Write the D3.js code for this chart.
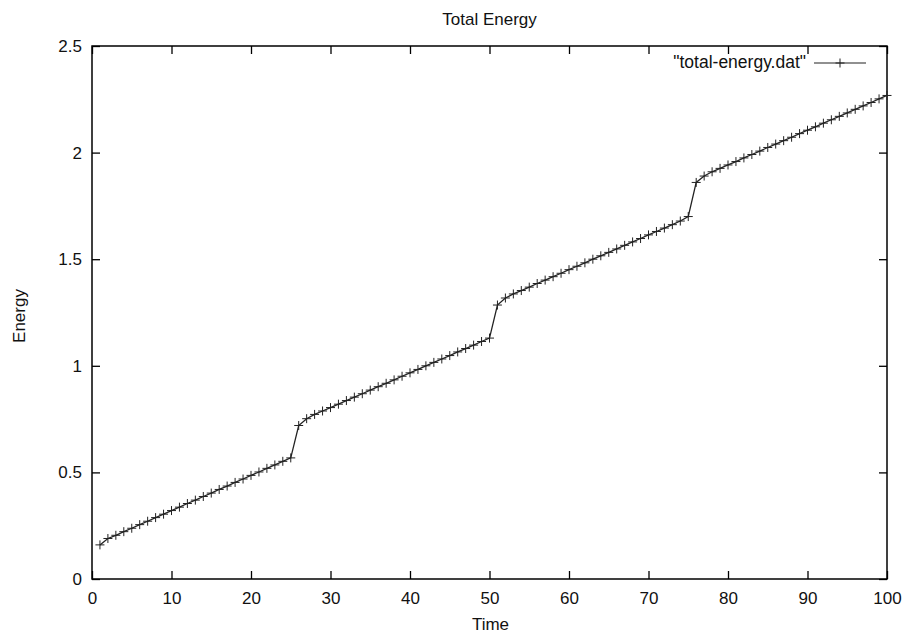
<!DOCTYPE html>
<html>
<head>
<meta charset="utf-8">
<script src="https://cdn.jsdelivr.net/npm/d3@7"></script>
<style>
  body { margin: 0; background: #fff; }
  svg { display: block; font-family: "Liberation Sans", Arial, sans-serif; }
</style>
</head>
<body>
<svg id="chart" width="908" height="636"></svg>
<script>
// values
const times = d3.range(1, 101)
const energy = [
  0.160, 0.190, 0.205, 0.222, 0.238, 0.255, 0.271, 0.288, 0.304, 0.321,
  0.337, 0.354, 0.370, 0.387, 0.403, 0.420, 0.436, 0.453, 0.469, 0.486,
  0.502, 0.519, 0.535, 0.552, 0.568, 0.720, 0.752, 0.772, 0.788, 0.804,
  0.820, 0.837, 0.853, 0.869, 0.886, 0.902, 0.918, 0.934, 0.951, 0.967,
  0.983, 1.000, 1.016, 1.032, 1.048, 1.065, 1.081, 1.097, 1.114, 1.130,
  1.285, 1.318, 1.337, 1.353, 1.369, 1.386, 1.402, 1.418, 1.434, 1.451,
  1.467, 1.483, 1.500, 1.516, 1.532, 1.548, 1.565, 1.581, 1.597, 1.614,
  1.630, 1.646, 1.662, 1.679, 1.700, 1.860, 1.890, 1.910, 1.926, 1.942,
  1.958, 1.975, 1.991, 2.007, 2.024, 2.040, 2.056, 2.072, 2.089, 2.105,
  2.121, 2.138, 2.154, 2.170, 2.186, 2.203, 2.219, 2.235, 2.252, 2.268
]
const xTicks = [0, 10, 20, 30, 40, 50, 60, 70, 80, 90, 100]
const yTicks = [0, 0.5, 1, 1.5, 2, 2.5]
const seriesName = '"total-energy.dat"'

const svg = d3.select('#chart')
const plotLeft = 92, plotRight = 887, plotTop = 46, plotBottom = 579
const tickLen = 8
const fontSize = '17px'

const x = d3.scaleLinear().domain([0, 100]).range([plotLeft, plotRight])
const y = d3.scaleLinear().domain([0, 2.5]).range([plotBottom, plotTop])

// frame
svg.append('rect')
  .attr('x', plotLeft).attr('y', plotTop)
  .attr('width', plotRight - plotLeft).attr('height', plotBottom - plotTop)
  .attr('fill', 'none').attr('stroke', '#000').attr('stroke-width', 1.5)

// axes: gnuplot style inward ticks, mirrored
const axisStyle = g => {
  g.select('.domain').remove()
  g.selectAll('.tick line').attr('stroke', '#000').attr('stroke-width', 1.3)
  g.selectAll('.tick text').attr('fill', '#111').style('font-size', fontSize)
}

svg.append('g')
  .attr('transform', `translate(0,${plotBottom})`)
  .call(d3.axisBottom(x).tickValues(xTicks).tickSizeInner(-tickLen).tickSizeOuter(0).tickPadding(13).tickFormat(String))
  .call(axisStyle)

svg.append('g')
  .attr('transform', `translate(0,${plotTop})`)
  .call(d3.axisTop(x).tickValues(xTicks).tickSizeInner(-tickLen).tickSizeOuter(0).tickFormat(''))
  .call(axisStyle)

svg.append('g')
  .attr('transform', `translate(${plotLeft},0)`)
  .call(d3.axisLeft(y).tickValues(yTicks).tickSizeInner(-tickLen).tickSizeOuter(0).tickPadding(10).tickFormat(String))
  .call(axisStyle)

svg.append('g')
  .attr('transform', `translate(${plotRight},0)`)
  .call(d3.axisRight(y).tickValues(yTicks).tickSizeInner(-tickLen).tickSizeOuter(0).tickFormat(''))
  .call(axisStyle)

// titles
const mid = (plotLeft + plotRight) / 2
svg.append('text').attr('x', mid).attr('y', 25).attr('text-anchor', 'middle')
  .style('font-size', fontSize).attr('fill', '#111').text('Total Energy')
svg.append('text').attr('x', mid + 1).attr('y', 630).attr('text-anchor', 'middle')
  .style('font-size', fontSize).attr('fill', '#111').text('Time')
svg.append('text').attr('transform', 'translate(25,316) rotate(-90)').attr('text-anchor', 'middle')
  .style('font-size', fontSize).attr('fill', '#111').text('Energy')

// series
const data = times.map((t, i) => [t, energy[i]])
const line = d3.line().x(d => x(d[0])).y(d => y(d[1]))

svg.append('path').datum(data)
  .attr('d', line)
  .attr('fill', 'none').attr('stroke', '#222').attr('stroke-width', 1.3)

const s = 4.5
const plusPath = `M${-s},0H${s}M0,${-s}V${s}`

svg.append('g').selectAll('path').data(data).join('path')
  .attr('transform', d => `translate(${x(d[0])},${y(d[1])})`)
  .attr('d', plusPath)
  .attr('stroke', '#222').attr('stroke-width', 1)

// legend
svg.append('text').attr('x', 806).attr('y', 68).attr('text-anchor', 'end')
  .style('font-size', '17.5px').attr('fill', '#111').text(seriesName)
svg.append('line').attr('x1', 814).attr('x2', 866).attr('y1', 63).attr('y2', 63)
  .attr('stroke', '#222').attr('stroke-width', 1.2)
svg.append('path').attr('transform', 'translate(840,63)').attr('d', plusPath)
  .attr('stroke', '#222').attr('stroke-width', 1)
</script>
</body>
</html>
